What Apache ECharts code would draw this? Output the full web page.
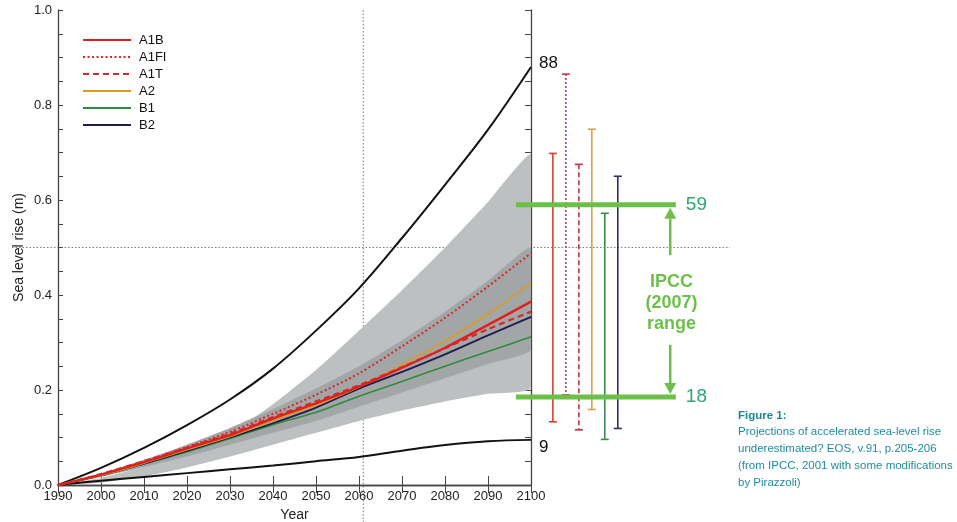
<!DOCTYPE html>
<html>
<head>
<meta charset="utf-8">
<script src="https://cdn.jsdelivr.net/npm/echarts@6/dist/echarts.min.js"></script>
<style>
  html, body { margin: 0; padding: 0; background: #fff; }
  #chart { width: 957px; height: 522px; }
</style>
</head>
<body>
<div id="chart"></div>
<script>
// years sampled along the x axis
const years = [1990, 2000, 2010, 2020, 2030, 2040, 2050, 2060, 2070, 2080, 2090, 2100];

// black envelope curves (88 / 9)
const upperBound = [0, 0.036, 0.078, 0.126, 0.18, 0.245, 0.325, 0.414, 0.52, 0.632, 0.748, 0.88];
const lowerBound = [0, 0.009, 0.017, 0.025, 0.033, 0.041, 0.05, 0.059, 0.072, 0.084, 0.092, 0.095];

// grey envelope (light) and inner envelope (dark)
const bandLow = [0, 0.005, 0.018, 0.037, 0.06, 0.085, 0.11, 0.135, 0.157, 0.176, 0.192, 0.205];
const bandHigh = [0, 0.015, 0.039, 0.068, 0.108, 0.17, 0.242, 0.325, 0.41, 0.5, 0.596, 0.695];
const innerLow = [0, 0.017, 0.038, 0.06, 0.085, 0.11, 0.135, 0.165, 0.195, 0.225, 0.255, 0.285];
const innerHigh = [0, 0.024, 0.053, 0.085, 0.12, 0.16, 0.203, 0.25, 0.305, 0.365, 0.43, 0.5];

// SRES scenarios
const a1b = [0, 0.022, 0.048, 0.077, 0.105, 0.14, 0.172, 0.207, 0.247, 0.289, 0.337, 0.386];
const a1fi = [0, 0.022, 0.05, 0.08, 0.112, 0.15, 0.19, 0.235, 0.292, 0.352, 0.418, 0.488];
const a1t = [0, 0.023, 0.05, 0.079, 0.108, 0.143, 0.176, 0.21, 0.248, 0.288, 0.328, 0.365];
const a2 = [0, 0.02, 0.046, 0.074, 0.102, 0.136, 0.168, 0.206, 0.253, 0.303, 0.36, 0.425];
const b1 = [0, 0.02, 0.044, 0.07, 0.098, 0.127, 0.153, 0.187, 0.218, 0.25, 0.281, 0.312];
const b2 = [0, 0.02, 0.045, 0.072, 0.1, 0.13, 0.163, 0.203, 0.238, 0.275, 0.315, 0.354];

// 2100 ranges per scenario (bars on the right)
const scenarios = ['A1B', 'A1FI', 'A1T', 'A2', 'B1', 'B2'];
const rangeLow = [0.133, 0.19, 0.116, 0.159, 0.096, 0.119];
const rangeHigh = [0.698, 0.865, 0.675, 0.749, 0.572, 0.65];

// IPCC (2007) range
const ipccRange = [0.185, 0.59];
const ipccLabels = ['18', '59'];

// dotted reference lines
const refYear = 2061;
const refLevel = 0.5;

const FONT = 'Liberation Sans, Arial, sans-serif';
const GREEN = '#6cc04a';
const colors = {
    A1B: '#e0201c', A1FI: '#d8262a', A1T: '#d42a2a',
    A2: '#dc9a22', B1: '#2e8b3e', B2: '#1e1e52'
};
const barStyles = [
    { color: '#d9402e', dash: null },
    { color: '#c43a4e', dash: [2, 2] },
    { color: '#c43046', dash: [5, 3] },
    { color: '#d9a040', dash: null },
    { color: '#3d8a4c', dash: null },
    { color: '#2e2e62', dash: null }
];

const pair = arr => years.map((y, i) => [y, arr[i]]);

// overlay grid (x in years) spans the whole width used by annotations
const OV_MIN = 1976.5, OV_MAX = 2146.3, OV_YMIN = -0.0779;

function scenarioLine(name, data, width, type, z) {
    return {
        name: name, type: 'line', xAxisIndex: 0, yAxisIndex: 0,
        data: pair(data), smooth: 0.3, showSymbol: false, symbol: 'none', z: z || 3,
        lineStyle: { color: colors[name], width: width, type: type || 'solid' },
        itemStyle: { color: colors[name] }
    };
}

function envelope(name, data, label, offset) {
    return {
        name: name, type: 'line', xAxisIndex: 0, yAxisIndex: 0,
        data: pair(data), smooth: 0.35, showSymbol: false, symbol: 'none', z: 2,
        lineStyle: { color: '#111', width: 2 },
        endLabel: {
            show: true, formatter: label, distance: 8, offset: offset,
            fontSize: 17, color: '#111', fontFamily: FONT
        }
    };
}

// shaded band between two arrays, drawn as one polygon
function band(low, high, color) {
    return {
        type: 'custom', xAxisIndex: 0, yAxisIndex: 0, silent: true, z: 1, clip: true,
        data: pair(high),
        renderItem: function (params, api) {
            if (params.dataIndex !== 0) return null;
            const pts = years.map((y, i) => api.coord([y, high[i]]));
            for (let i = years.length - 1; i >= 0; i--) {
                pts.push(api.coord([years[i], low[i]]));
            }
            return {
                type: 'polygon',
                shape: { points: pts, smooth: 0.15 },
                style: { fill: color }
            };
        }
    };
}

const chart = echarts.init(document.getElementById('chart'));

const option = {
    animation: false,
    backgroundColor: '#fff',
    title: {
        left: 733, top: 405, itemGap: 1,
        text: 'Figure 1:',
        textStyle: { fontSize: 11.5, fontWeight: 'bold', color: '#1c8797', fontFamily: FONT },
        subtext: 'Projections of accelerated sea-level rise\nunderestimated? EOS, v.91, p.205-206\n(from IPCC, 2001 with some modifications\nby Pirazzoli)',
        subtextStyle: { fontSize: 11.5, lineHeight: 17, color: '#1f8c9c', fontFamily: FONT }
    },
    legend: {
        orient: 'vertical', left: 77, top: 28.5,
        itemWidth: 48, itemHeight: 14, itemGap: 4,
        data: scenarios,
        itemStyle: { opacity: 0 },
        textStyle: { fontSize: 13, color: '#111', fontFamily: FONT, padding: [0, 0, 0, 3] }
    },
    grid: [
        { left: 58, right: 426, top: 10, bottom: 37, outerBoundsMode: 'none', containLabel: false },
        { left: 0, right: 227, top: 10, bottom: 0, outerBoundsMode: 'none', containLabel: false }
    ],
    xAxis: [
        {
            gridIndex: 0, type: 'value', min: 1990, max: 2100, interval: 10, position: 'bottom',
            name: 'Year', nameLocation: 'middle', nameGap: 22,
            nameTextStyle: { fontSize: 14, color: '#222', fontFamily: FONT },
            axisLine: { lineStyle: { color: '#444', width: 1.3 } },
            axisTick: { inside: true, length: 9, lineStyle: { color: '#444' } },
            axisLabel: { fontSize: 13, color: '#222', margin: 5, fontFamily: FONT, formatter: v => String(v) },
            splitLine: { show: false }
        },
        {
            gridIndex: 0, type: 'value', min: 1990, max: 2100, interval: 10, position: 'top',
            axisLine: { lineStyle: { color: '#444', width: 1.3 } },
            axisTick: { inside: true, length: 8, lineStyle: { color: '#444' } },
            axisLabel: { show: false },
            splitLine: { show: false }
        },
        { gridIndex: 1, type: 'value', min: OV_MIN, max: OV_MAX, show: false, splitLine: { show: false } }
    ],
    yAxis: [
        {
            gridIndex: 0, type: 'value', min: 0, max: 1, interval: 0.05, position: 'left',
            name: 'Sea level rise (m)', nameLocation: 'middle', nameGap: 32, nameRotate: 90,
            nameTextStyle: { fontSize: 14, color: '#222', fontFamily: FONT },
            axisLine: { show: true, lineStyle: { color: '#444', width: 1.3 } },
            axisTick: { show: true, inside: true, length: 5, lineStyle: { color: '#444' } },
            axisLabel: {
                fontSize: 13, color: '#222', margin: 6, fontFamily: FONT,
                formatter: v => Math.abs(v * 5 - Math.round(v * 5)) < 1e-6 ? v.toFixed(1) : ''
            },
            splitLine: { show: false }
        },
        {
            gridIndex: 0, type: 'value', min: 0, max: 1, interval: 0.05, position: 'right',
            axisLine: { show: true, lineStyle: { color: '#444', width: 1.3 } },
            axisTick: { show: true, inside: true, length: 6, lineStyle: { color: '#444' } },
            axisLabel: { show: false },
            splitLine: { show: false }
        },
        { gridIndex: 1, type: 'value', min: OV_YMIN, max: 1, show: false, splitLine: { show: false } }
    ],
    series: [
        band(bandLow, bandHigh, '#bcc0c0'),
        band(innerLow, innerHigh, '#a2a6a6'),
        envelope('upper', upperBound, '88', [0, -4]),
        envelope('lower', lowerBound, '9', [0, 7]),
        scenarioLine('B1', b1, 1.6),
        scenarioLine('B2', b2, 1.8),
        scenarioLine('A2', a2, 1.6),
        scenarioLine('A1T', a1t, 2.2, [6, 4]),
        scenarioLine('A1B', a1b, 2.4),
        scenarioLine('A1FI', a1fi, 2, [2, 2.5], 4),
        // dotted reference lines
        {
            type: 'custom', xAxisIndex: 2, yAxisIndex: 2, silent: true, z: 0,
            data: [[refYear, refLevel]],
            renderItem: function (params, api) {
                const x = api.value(0), y = api.value(1);
                const h0 = api.coord([1979.3, y]), h1 = api.coord([OV_MAX, y]);
                const v0 = api.coord([x, 1]), v1 = api.coord([x, OV_YMIN]);
                const st = { stroke: '#7a7a7a', lineWidth: 1, lineDash: [1.5, 2] };
                return {
                    type: 'group', children: [
                        { type: 'line', shape: { x1: h0[0], y1: h0[1], x2: h1[0], y2: h1[1] }, style: st },
                        { type: 'line', shape: { x1: v0[0], y1: v0[1], x2: v1[0], y2: v1[1] }, style: st }
                    ]
                };
            }
        },
        // scenario ranges at 2100
        {
            type: 'custom', xAxisIndex: 2, yAxisIndex: 2, silent: true, z: 5,
            data: scenarios.map((s, i) => [2105.1 + i * 3.02, rangeLow[i], rangeHigh[i]]),
            renderItem: function (params, api) {
                const x = api.value(0);
                const top = api.coord([x, api.value(2)]);
                const bot = api.coord([x, api.value(1)]);
                const s = barStyles[params.dataIndex];
                const cap = { stroke: s.color, lineWidth: 1.6 };
                return {
                    type: 'group', children: [
                        { type: 'line', shape: { x1: top[0], y1: top[1], x2: bot[0], y2: bot[1] },
                          style: { stroke: s.color, lineWidth: 1.6, lineDash: s.dash } },
                        { type: 'line', shape: { x1: top[0] - 4, y1: top[1], x2: top[0] + 4, y2: top[1] }, style: cap },
                        { type: 'line', shape: { x1: bot[0] - 4, y1: bot[1], x2: bot[0] + 4, y2: bot[1] }, style: cap }
                    ]
                };
            }
        },
        // IPCC (2007) range
        {
            type: 'custom', xAxisIndex: 2, yAxisIndex: 2, silent: true, z: 6,
            data: ipccRange.map(v => [2115, v]),
            renderItem: function (params, api) {
                const i = params.dataIndex;
                const v = api.value(1);
                const l = api.coord([2096.5, v]), r = api.coord([2133.7, v]);
                const ax = api.coord([2132.4, v])[0];
                const tail = api.coord([2132.4, i === 1 ? 0.484 : 0.295])[1];
                const dir = i === 1 ? 1 : -1; // 1: arrow head points up
                const tip = l[1] + dir * 3;
                const base = tip + dir * 11;
                const children = [
                    { type: 'line', shape: { x1: l[0], y1: l[1], x2: r[0], y2: r[1] }, style: { stroke: GREEN, lineWidth: 5 } },
                    { type: 'line', shape: { x1: ax, y1: tail, x2: ax, y2: base }, style: { stroke: GREEN, lineWidth: 2.5 } },
                    { type: 'polygon', shape: { points: [[ax, tip], [ax - 6, base], [ax + 6, base]] }, style: { fill: GREEN } },
                    { type: 'text', x: r[0] + 10, y: r[1],
                      style: { text: ipccLabels[i], fill: '#2ba673', font: '19px ' + FONT, verticalAlign: 'middle', align: 'left' } }
                ];
                if (i === 1) {
                    const c = api.coord([2132.7, 0.3825]);
                    children.push({
                        type: 'text', x: c[0], y: c[1],
                        style: { text: 'IPCC\n(2007)\nrange', fill: GREEN, font: 'bold 18px ' + FONT,
                                 lineHeight: 21, align: 'center', verticalAlign: 'middle' }
                    });
                }
                return { type: 'group', children: children };
            }
        }
    ]
};

chart.setOption(option);
</script>
</body>
</html>
